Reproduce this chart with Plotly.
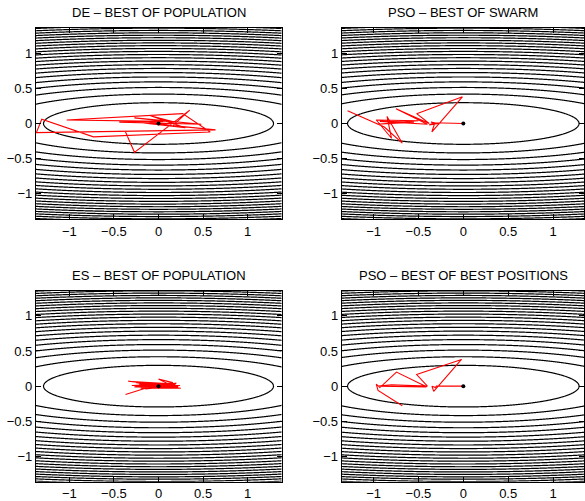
import numpy as np
import plotly.graph_objects as go

# ---- data -------------------------------------------------------------
titles = ["DE – BEST OF POPULATION", "PSO – BEST OF SWARM",
          "ES – BEST OF POPULATION", "PSO – BEST OF BEST POSITIONS"]

tick_vals = [-1, -0.5, 0, 0.5, 1]
tick_text = ["−1", "−0.5", "0", "0.5", "1"]

optimum_x = [0.0]
optimum_y = [0.0]

# objective  f(x, y) = x^2 + a*y^2, contour levels k*level_step
ellipse_a = 19.0
level_step = 1.664
n_levels = 26

de_x = [-0.37, -0.27, 0.35, 0.16, 0.64, -1.37, -1.31, -0.73, 0.58, 0.27, -1.03,
        0.05, -0.44, 0.48, -0.27, 0.18, -0.09, 0.30, -0.20, 0.15, -0.10, 0.10,
        -0.05, 0.03, 0.0]
de_y = [-0.12, -0.41, 0.19, -0.03, -0.09, -0.13, 0.06, -0.19, -0.12, 0.14, 0.05,
        0.03, 0.02, -0.01, 0.08, 0.02, 0.11, -0.06, 0.01, -0.03, 0.02, 0.0,
        0.01, -0.01, 0.0]

pso_x = [-1.29, -0.88, -0.68, -0.85, -0.80, -0.97, -0.50, -0.96, -0.55, -0.93,
         -0.40, -0.75, -0.38, -0.52, -0.01, -0.35, -0.32, -0.36, -0.28, -0.38,
         -0.33, 0.0]
pso_y = [0.18, -0.05, -0.28, 0.10, -0.21, 0.05, 0.04, -0.01, 0.02, 0.03,
         -0.01, 0.21, 0.0, 0.14, 0.38, -0.12, 0.0, 0.02, 0.0, -0.02,
         0.01, 0.0]

es_x = [-0.37, -0.12, 0.18, -0.34, 0.22, -0.20, 0.25, -0.25, 0.12, -0.30, 0.20,
        -0.15, 0.24, -0.22, 0.10, -0.27, 0.16, 0.0, 0.21, -0.18, 0.0, 0.14,
        -0.24, 0.19, -0.10, 0.08, -0.16, 0.13, -0.08, 0.06, -0.04, 0.03, -0.02, 0.0]
es_y = [-0.12, -0.02, 0.03, 0.07, -0.01, -0.03, -0.03, 0.05, 0.02, 0.01, 0.04,
        -0.04, 0.01, 0.03, -0.02, -0.01, 0.05, 0.10, -0.03, 0.02, -0.03, 0.04,
        0.00, 0.02, 0.03, -0.02, 0.01, -0.01, 0.02, 0.0, 0.01, -0.01, 0.0, 0.0]

pbest_x = [-0.68, -0.95, -0.97, -0.93, -0.745, -0.41, -0.95, -0.80, -0.40,
           -0.52, -0.02, -0.33, -0.35, -0.31, -0.30, 0.0]
pbest_y = [-0.28, -0.06, 0.03, -0.02, 0.20, -0.01, 0.0, 0.02, 0.0,
           0.165, 0.38, -0.075, 0.0, -0.02, 0.0, 0.0]

paths = [(de_x, de_y), (pso_x, pso_y), (es_x, es_y), (pbest_x, pbest_y)]

# ---- layout geometry ---------------------------------------------------
W, H = 585, 501
x_domains = [[36 / W, 282 / W], [342.3 / W, 1.0], [36 / W, 282 / W], [342.3 / W, 1.0]]
y_domains = [[(H - 220) / H, (H - 28) / H], [(H - 220) / H, (H - 28) / H],
             [(H - 483.7) / H, (H - 291.7) / H], [(H - 483.7) / H, (H - 291.7) / H]]
x_ranges = [[-1.375, 1.38], [-1.355, 1.345], [-1.375, 1.38], [-1.355, 1.345]]
y_range = [-1.36, 1.36]
title_pos = [(159, 13), (464, 13), (159, 277), (464, 277)]

gx = np.linspace(-1.4, 1.4, 401)
gy = np.linspace(-1.4, 1.4, 401)
GX, GY = np.meshgrid(gx, gy)
Z = GX ** 2 + ellipse_a * GY ** 2

fig = go.Figure()
font = dict(family="Liberation Sans, Arial, Helvetica, sans-serif", size=13, color="black")

for i in range(4):
    xa = "x" if i == 0 else f"x{i+1}"
    ya = "y" if i == 0 else f"y{i+1}"
    fig.add_trace(go.Contour(
        x=gx, y=gy, z=Z, xaxis=xa, yaxis=ya,
        contours=dict(start=level_step, end=level_step * n_levels, size=level_step,
                      coloring="lines"),
        colorscale=[[0, "black"], [1, "black"]], showscale=False,
        line=dict(width=1.2, smoothing=1), hoverinfo="skip"))
    px, py = paths[i]
    fig.add_trace(go.Scatter(x=px, y=py, xaxis=xa, yaxis=ya, mode="lines",
                             line=dict(color="red", width=1.1), showlegend=False))
    fig.add_trace(go.Scatter(x=optimum_x, y=optimum_y, xaxis=xa, yaxis=ya,
                             mode="markers", marker=dict(color="black", size=4),
                             showlegend=False))
    axis_common = dict(showline=True, linecolor="black", linewidth=1, mirror="ticks",
                       ticks="inside", ticklen=5, tickcolor="black",
                       tickvals=tick_vals, ticktext=tick_text, showgrid=False,
                       zeroline=False, tickfont=font)
    kx = "xaxis" if i == 0 else f"xaxis{i+1}"
    ky = "yaxis" if i == 0 else f"yaxis{i+1}"
    fig.layout[kx] = dict(domain=x_domains[i], range=x_ranges[i], anchor=ya, **axis_common)
    fig.layout[ky] = dict(domain=y_domains[i], range=y_range, anchor=xa, **axis_common)
    tx, ty = title_pos[i]
    fig.add_annotation(text=titles[i], x=tx / W, y=1 - ty / H, xref="paper", yref="paper",
                       showarrow=False, xanchor="center", yanchor="middle", font=font)

fig.update_layout(width=W, height=H, margin=dict(l=0, r=0, t=0, b=0),
                  paper_bgcolor="white", plot_bgcolor="white", showlegend=False)

fig.write_html("out.html", config={"displayModeBar": False},
               post_script="document.body.style.margin='0';")
